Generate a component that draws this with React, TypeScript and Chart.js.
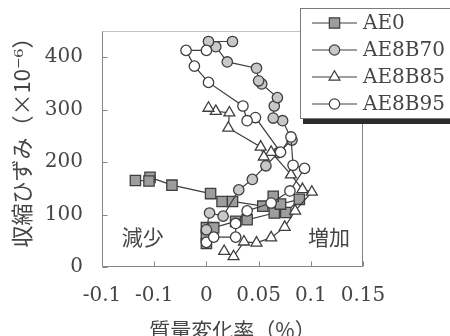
import React, { useEffect, useRef } from "react";
import { Chart, registerables } from "chart.js";

Chart.register(...registerables);

// ---- data ----
const seriesNames = ["AE0", "AE8B70", "AE8B85", "AE8B95"];

const ae0X = [0, 0, 0, 0.007, 0.028, 0.039, 0.065, 0.076, 0.089, 0.071, 0.064, 0.054, 0.025, 0.015, 0.004, -0.033, -0.054, -0.055, -0.068];
const ae0Y = [45, 60, 75, 75, 87, 90, 103, 104, 129, 120, 135, 116, 125, 125, 140, 156, 171, 164, 165];

const ae8b70X = [0, 0.003, 0.016, 0.031, 0.044, 0.057, 0.069, 0.082, 0.073, 0.064, 0.065, 0.068, 0.053, 0.05, 0.048, 0.02, 0.009, 0.002, 0.025];
const ae8b70Y = [71, 103, 97, 147, 167, 193, 218, 242, 279, 284, 307, 323, 349, 355, 379, 391, 420, 430, 430];

const ae8b85X = [0.017, 0.026, 0.036, 0.048, 0.062, 0.075, 0.085, 0.101, 0.092, 0.081, 0.062, 0.055, 0.052, 0.021, 0.022, 0.009, 0.002];
const ae8b85Y = [30, 20, 48, 46, 56, 76, 107, 143, 148, 176, 219, 210, 229, 265, 294, 297, 303];

const ae8b95X = [0, 0.007, 0.028, 0.028, 0.039, 0.062, 0.08, 0.094, 0.083, 0.081, 0.071, 0.047, 0.039, 0.035, 0.002, -0.0115, -0.0195, 0];
const ae8b95Y = [47, 57, 57, 83, 107, 122, 145, 188, 194, 248, 219, 285, 279, 307, 352, 383, 413, 413];

const xTickLabels = ["-0.1", "-0.1", "0", "0.05", "0.1", "0.15"];
const xTitle = "質量変化率（%）";
const yTitle = "収縮ひずみ（×10⁻⁶）";

const noteTexts = ["減少", "増加"];
const noteX = [-0.061, 0.1175];
const noteY = [58, 58];

// ---- styles ----
const SERIF = '"DejaVu Serif", "Noto Sans CJK JP", serif';
const CJK = '"Noto Sans CJK JP", "DejaVu Serif", sans-serif';
const TEXT = "#454545";
const LINE = "#3e3e3e";

const styles = [
  { pointStyle: "rect", radius: 7.3, fill: "#9d9d9d" },
  { pointStyle: "circle", radius: 5.2, fill: "#c8c8c8" },
  { pointStyle: "triangle", radius: 6.3, fill: "#ffffff" },
  { pointStyle: "circle", radius: 5.2, fill: "#ffffff" },
];

const seriesX = [ae0X, ae8b70X, ae8b85X, ae8b95X];
const seriesY = [ae0Y, ae8b70Y, ae8b85Y, ae8b95Y];

function drawMarker(ctx: CanvasRenderingContext2D, style: string, x: number, y: number, r: number, fill: string) {
  ctx.beginPath();
  if (style === "rect") {
    const s = r * Math.SQRT1_2;
    ctx.rect(x - s, y - s, 2 * s, 2 * s);
  } else if (style === "triangle") {
    for (let k = 0; k < 3; k++) {
      const a = (k * 2 * Math.PI) / 3;
      const px = x + Math.sin(a) * r;
      const py = y - Math.cos(a) * r;
      if (k === 0) ctx.moveTo(px, py);
      else ctx.lineTo(px, py);
    }
    ctx.closePath();
  } else {
    ctx.arc(x, y, r, 0, Math.PI * 2);
  }
  ctx.fillStyle = fill;
  ctx.fill();
  ctx.stroke();
}

const decor = {
  id: "decor",
  beforeDatasetsDraw(chart: any) {
    const { ctx, chartArea } = chart;
    const { left, right, top, bottom } = chartArea;
    ctx.save();
    ctx.strokeStyle = "#858585";
    ctx.lineWidth = 1;
    const L = Math.round(left) + 0.5;
    const R = Math.round(right) - 0.5;
    const T = Math.round(top) + 0.5;
    const B = Math.round(bottom) - 0.5;
    ctx.beginPath();
    ctx.moveTo(L, T);
    ctx.lineTo(L, B);
    ctx.lineTo(R, B);
    ctx.lineTo(R, T);
    ctx.stroke();
    ctx.setLineDash([1, 1]);
    ctx.beginPath();
    ctx.moveTo(L, T);
    ctx.lineTo(R, T);
    ctx.stroke();
    ctx.setLineDash([]);
    // inward ticks
    const ys = chart.scales.y;
    ys.ticks.forEach((t: any) => {
      const py = Math.round(ys.getPixelForValue(t.value)) + 0.5;
      ctx.beginPath();
      ctx.moveTo(L, py);
      ctx.lineTo(L + 5, py);
      ctx.stroke();
    });
    const xs = chart.scales.x;
    xs.ticks.forEach((t: any) => {
      const px = Math.round(xs.getPixelForValue(t.value)) + 0.5;
      ctx.beginPath();
      ctx.moveTo(px, B);
      ctx.lineTo(px, B - 5);
      ctx.stroke();
    });
    // notes
    ctx.fillStyle = TEXT;
    ctx.font = `21px ${CJK}`;
    ctx.textAlign = "center";
    ctx.textBaseline = "middle";
    noteTexts.forEach((t, i) => {
      ctx.fillText(t, xs.getPixelForValue(noteX[i]), ys.getPixelForValue(noteY[i]));
    });
    // y axis title (rotated)
    ctx.translate(22, (top + bottom) / 2 - 12);
    ctx.rotate(-Math.PI / 2);
    ctx.font = `22px ${CJK}`;
    ctx.fillText(yTitle, 0, 0);
    ctx.restore();
  },
  afterDraw(chart: any) {
    const { ctx } = chart;
    ctx.save();
    // legend box with shadow
    ctx.fillStyle = "#2c2c2c";
    ctx.fillRect(303, 119, 150, 5);
    ctx.fillStyle = "#ffffff";
    ctx.fillRect(300, 8, 152, 111);
    ctx.strokeStyle = "#7a7a7a";
    ctx.lineWidth = 1;
    ctx.strokeRect(300.5, 8.5, 170, 110);
    seriesNames.forEach((name, i) => {
      const y = 23 + i * 27;
      ctx.strokeStyle = LINE;
      ctx.lineWidth = 1.2;
      ctx.beginPath();
      ctx.moveTo(312, y);
      ctx.lineTo(357, y);
      ctx.stroke();
      const st = styles[i];
      drawMarker(ctx, st.pointStyle, 334.5, y, st.radius, st.fill);
      ctx.fillStyle = TEXT;
      ctx.font = `20px ${SERIF}`;
      ctx.textAlign = "left";
      ctx.textBaseline = "middle";
      ctx.fillText(name, 363, y + 1);
    });
    ctx.restore();
  },
};

export default function App() {
  const ref = useRef<HTMLCanvasElement>(null);

  useEffect(() => {
    if (!ref.current) return;
    const datasets = seriesNames.map((name, i) => ({
      label: name,
      data: seriesX[i].map((x, k) => ({ x, y: seriesY[i][k] })),
      showLine: true,
      borderColor: LINE,
      borderWidth: 1.2,
      pointStyle: styles[i].pointStyle as any,
      pointRadius: styles[i].radius,
      pointBackgroundColor: styles[i].fill,
      pointBorderColor: LINE,
      pointBorderWidth: 1.3,
      order: 4 - i,
    }));
    const chart = new Chart(ref.current, {
      type: "scatter",
      data: { datasets },
      options: {
        animation: false,
        responsive: false,
        devicePixelRatio: 1,
        layout: { padding: { top: 25, right: 87, left: 0, bottom: 0 } },
        plugins: { legend: { display: false }, tooltip: { enabled: false } },
        scales: {
          x: {
            type: "linear",
            min: -0.1,
            max: 0.15,
            ticks: {
              stepSize: 0.05,
              autoSkip: false,
              maxRotation: 0,
              includeBounds: false,
              padding: 17,
              color: TEXT,
              font: { family: SERIF, size: 20 },
              callback: (_v: any, i: number) => xTickLabels[i],
            },
            grid: { display: false, drawTicks: false },
            border: { display: false },
            title: {
              display: true,
              text: xTitle,
              color: TEXT,
              font: { family: CJK, size: 21 },
              padding: { top: 0, bottom: -7 },
            },
            afterFit: (s: any) => {
              s.height = 69;
            },
          },
          y: {
            type: "linear",
            min: 0,
            max: 450,
            ticks: {
              stepSize: 100,
              includeBounds: false,
              padding: 19,
              color: TEXT,
              font: { family: SERIF, size: 20 },
            },
            grid: { display: false, drawTicks: false },
            border: { display: false },
            title: { display: false, text: yTitle },
            afterFit: (s: any) => {
              s.width = 102;
            },
          },
        },
      } as any,
      plugins: [decor],
    });
    return () => chart.destroy();
  }, []);

  return (
    <div style={{ position: "fixed", left: 0, top: 0, width: 450, height: 336, background: "#fff" }}>
      <canvas ref={ref} width={450} height={336} style={{ display: "block" }} />
    </div>
  );
}
